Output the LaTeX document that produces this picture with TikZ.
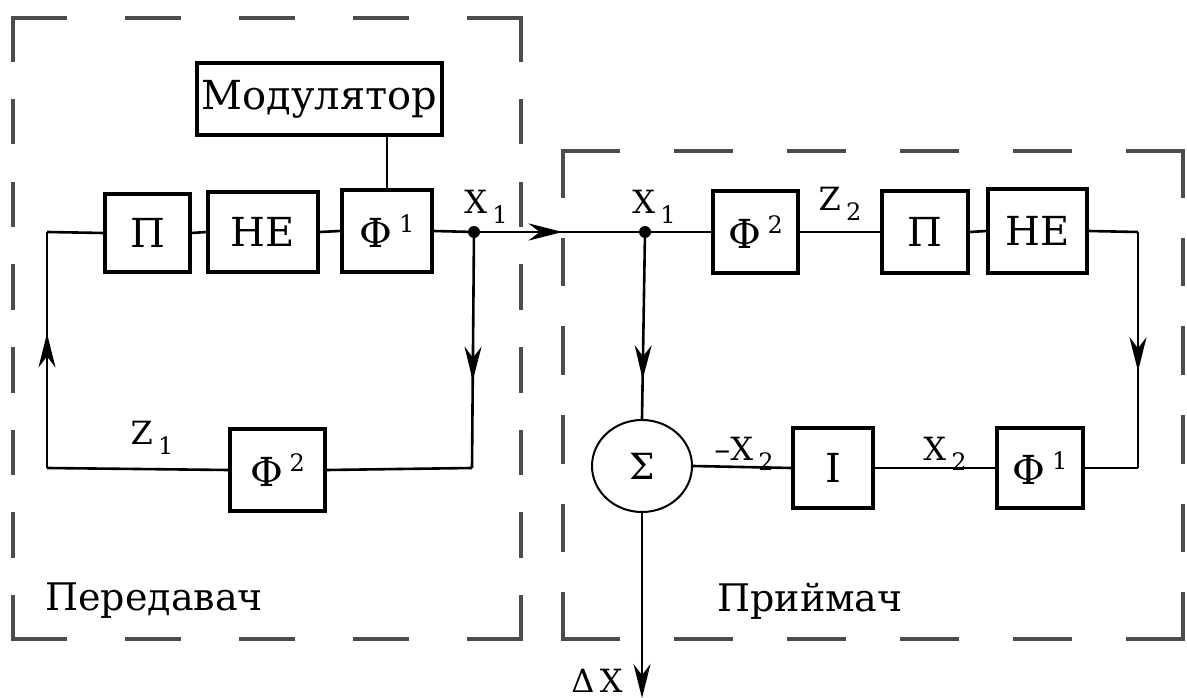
\documentclass[tikz,border=0pt]{standalone}
\usepackage{fontspec}
\setmainfont{DejaVu Serif}
\usetikzlibrary{arrows.meta,decorations.markings,shapes.geometric}
\newcommand{\supr}[1]{\,\raisebox{15pt}{\fontsize{24}{24}\selectfont #1}}
\newcommand{\subr}[1]{\,\raisebox{-10pt}{\fontsize{24}{24}\selectfont #1}}
\begin{document}
\begin{tikzpicture}[x=1pt,y=-1pt,
  blk/.style={draw,line width=3.2pt,inner sep=0pt,font=\fontsize{40}{40}\selectfont},
  wire/.style={line width=2.6pt},
  frame/.style={line width=3.5pt,black!70,line cap=rect},
  lbl/.style={font=\fontsize{32}{32}\selectfont,inner sep=0pt},
  big/.style={font=\fontsize{38}{38}\selectfont,inner sep=0pt},
  dot/.style={circle,fill,inner sep=0pt,minimum size=12pt},
  tip/.style={-{Stealth[length=34pt,width=17pt]}},
  midarr/.style={postaction={decorate},decoration={markings,mark=at position #1 with {\arrow{Stealth[length=34pt,width=17pt]}}}}
]
\useasboundingbox (0,0) rectangle (1187,698);

% frames (each side drawn separately so that every corner carries a dash)
\coordinate (A1) at (13,18);  \coordinate (A2) at (521,18);
\coordinate (A3) at (521,639); \coordinate (A4) at (13,639);
\coordinate (B1) at (563,151); \coordinate (B2) at (1183,151);
\coordinate (B3) at (1183,639); \coordinate (B4) at (563,639);
\draw[frame,dash pattern=on 52pt off 62pt] (A1) -- (A2);
\draw[frame,dash pattern=on 52pt off 62pt] (A4) -- (A3);
\draw[frame,dash pattern=on 42pt off 40.7pt] (A1) -- (A4);
\draw[frame,dash pattern=on 42pt off 40.7pt] (A2) -- (A3);
\draw[frame,dash pattern=on 55pt off 58pt] (B1) -- (B2);
\draw[frame,dash pattern=on 55pt off 58pt] (B4) -- (B3);
\draw[frame,dash pattern=on 45pt off 43.6pt] (B1) -- (B4);
\draw[frame,dash pattern=on 45pt off 43.6pt] (B2) -- (B3);

% transmitter blocks
\node[blk,minimum width=245pt,minimum height=72pt] (Mod) at (319.5,99) {Модулятор};
\node[blk,minimum width=85pt,minimum height=78pt] (P1) at (147.5,233) {П};
\node[blk,minimum width=110pt,minimum height=80pt] (NE1) at (263,232) {НЕ};
\node[blk,minimum width=90pt,minimum height=82pt] (F1L) at (387,231) {Φ\supr{1}};
\node[blk,minimum width=95pt,minimum height=82pt] (F2L) at (277.5,470) {Φ\supr{2}};
\node[dot] (dL) at (474,232) {};
\coordinate (UL) at (47,232);
\coordinate (LL) at (47,468);
\coordinate (BR) at (472,468);

% receiver blocks
\node[dot] (dR) at (645,232) {};
\node[blk,minimum width=85pt,minimum height=82pt] (F2R) at (755.5,232) {Φ\supr{2}};
\node[blk,minimum width=86pt,minimum height=82pt] (P2) at (925,232) {П};
\node[blk,minimum width=99pt,minimum height=84pt] (NE2) at (1037.5,231) {НЕ};
\coordinate (UR) at (1138,232);
\coordinate (LR) at (1138,468);
\node[blk,minimum width=86pt,minimum height=80pt] (F1R) at (1040,468) {Φ\supr{1}};
\node[blk,minimum width=80pt,minimum height=80pt] (I) at (833,468) {I};
\node[draw,ellipse,line width=2pt,minimum width=100pt,minimum height=92pt,inner sep=0pt,font=\fontsize{36}{36}\selectfont] (S) at (642,466) {Σ};
\coordinate (OUT) at (642,698);

% transmitter wires
\draw[wire] (Mod.south -| F1L.north) -- (F1L.north);
\draw[wire] (UL) -- (P1.west);
\draw[wire,midarr=0.57] (LL) -- (UL);
\draw[wire] (LL) -- (F2L.west);
\draw[wire] (P1.east) -- (NE1.west);
\draw[wire] (NE1.east) -- (F1L.west);
\draw[wire] (F1L.east) -- (dL);
\draw[wire,midarr=0.62] (dL) -- (BR);
\draw[wire] (BR) -- (F2L.east);

% link
\draw[wire,midarr=0.52] (dL) -- (dR);

% receiver wires
\draw[wire] (dR) -- (F2R.west);
\draw[wire] (F2R.east) -- (P2.west);
\draw[wire] (P2.east) -- (NE2.west);
\draw[wire] (NE2.east) -- (UR);
\draw[wire,midarr=0.59] (UR) -- (LR);
\draw[wire] (LR) -- (F1R.east);
\draw[wire] (F1R.west) -- (I.east);
\draw[wire] (I.west) -- (S.east);
\draw[wire,midarr=0.78] (dR) -- (S.north);
\draw[wire,tip] (S.south) -- (OUT);

% labels
\node[lbl] (lX1a) at (486,207) {X\subr{1}};
\node[lbl] (lX1b) at (654,207) {X\subr{1}};
\node[lbl] (lZ1) at (152,438) {Z\subr{1}};
\node[lbl] (lZ2) at (840,204) {Z\subr{2}};
\node[lbl] (lmX2) at (744,454) {–X\subr{2}};
\node[lbl] (lX2) at (945,454) {X\subr{2}};
\node[lbl] (lDX) at (597,681) {Δ\,X};
\node[big] (tx) at (154,601) {Передавач};
\node[big] (rx) at (810,601) {Приймач};
\end{tikzpicture}
\end{document}
